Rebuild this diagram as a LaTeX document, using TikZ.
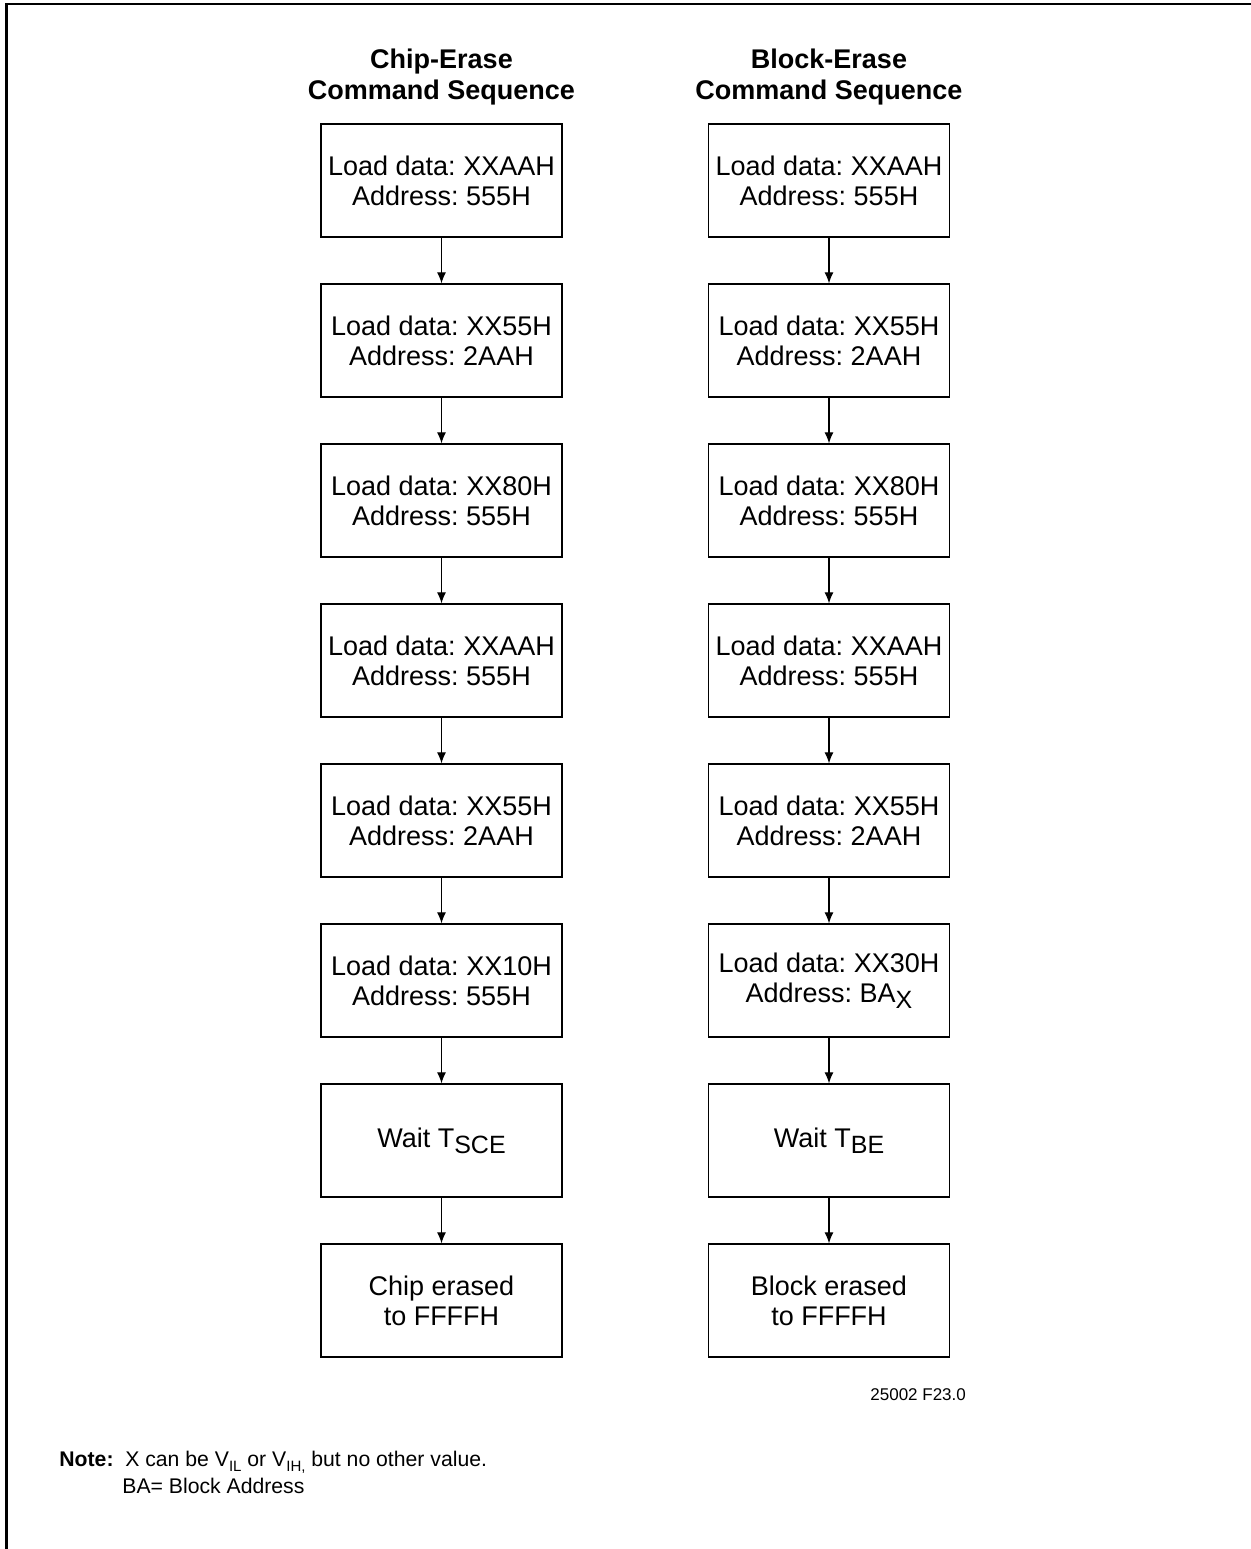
\documentclass[tikz,border=0pt]{standalone}
\usepackage{fontspec}
\setmainfont{Liberation Sans}
\usetikzlibrary{positioning,arrows.meta}
\frenchspacing

\newcommand{\bigsub}[1]{\raisebox{-3pt}{\fontsize{12.5}{12.5}\selectfont #1}}
\newcommand{\lowsub}[1]{\raisebox{-2.5pt}{\fontsize{7.5}{7.5}\selectfont #1}}

\begin{document}
\begin{tikzpicture}[x=0.5pt, y=-0.5pt, node distance=80pt,
    stepbox/.style={draw, line width=0.65pt, rectangle, minimum width=120.5pt, minimum height=56.5pt, inner sep=0pt, align=center, font=\fontsize{13.5}{15}\selectfont},
    heading/.style={inner sep=0pt, align=center, font=\fontsize{13.5}{15.5}\selectfont\bfseries},
    flow/.style={line width=0.6pt, -{Latex[length=5.5pt,width=4.5pt]}},
    smalltext/.style={inner sep=0pt, anchor=base west, font=\fontsize{10.6}{11}\selectfont}]
    \useasboundingbox (0,0) rectangle (1251,1549);
    % frame
    \draw[line width=1.2pt] (6.5,1549) -- (6.5,4) -- (1251,4);

    % chip erase
    \node[stepbox] (ce1) at (441.5,180.5) {Load data: XXAAH\\Address: 555H};
    \node[stepbox, below of=ce1] (ce2) {Load data: XX55H\\Address: 2AAH};
    \node[stepbox, below of=ce2] (ce3) {Load data: XX80H\\Address: 555H};
    \node[stepbox, below of=ce3] (ce4) {Load data: XXAAH\\Address: 555H};
    \node[stepbox, below of=ce4] (ce5) {Load data: XX55H\\Address: 2AAH};
    \node[stepbox, below of=ce5] (ce6) {Load data: XX10H\\Address: 555H};
    \node[stepbox, below of=ce6] (ce7) {Wait T\bigsub{SCE}};
    \node[stepbox, below of=ce7] (ce8) {Chip erased\\to FFFFH};
    \node[heading, above=9pt of ce1] (cehead) {Chip-Erase\\Command Sequence};

    % block erase
    \node[stepbox, right of=ce1, xshift=113.75pt] (be1) {Load data: XXAAH\\Address: 555H};
    \node[stepbox, below of=be1] (be2) {Load data: XX55H\\Address: 2AAH};
    \node[stepbox, below of=be2] (be3) {Load data: XX80H\\Address: 555H};
    \node[stepbox, below of=be3] (be4) {Load data: XXAAH\\Address: 555H};
    \node[stepbox, below of=be4] (be5) {Load data: XX55H\\Address: 2AAH};
    \node[stepbox, below of=be5] (be6) {Load data: XX30H\\Address: BA\bigsub{X}};
    \node[stepbox, below of=be6] (be7) {Wait T\bigsub{BE}};
    \node[stepbox, below of=be7] (be8) {Block erased\\to FFFFH};
    \node[heading, above=9pt of be1] (behead) {Block-Erase\\Command Sequence};

    \draw[flow] (ce1) -- (ce2);
    \draw[flow] (ce2) -- (ce3);
    \draw[flow] (ce3) -- (ce4);
    \draw[flow] (ce4) -- (ce5);
    \draw[flow] (ce5) -- (ce6);
    \draw[flow] (ce6) -- (ce7);
    \draw[flow] (ce7) -- (ce8);
    \draw[flow] (be1) -- (be2);
    \draw[flow] (be2) -- (be3);
    \draw[flow] (be3) -- (be4);
    \draw[flow] (be4) -- (be5);
    \draw[flow] (be5) -- (be6);
    \draw[flow] (be6) -- (be7);
    \draw[flow] (be7) -- (be8);

    % notes
    \node[smalltext, font=\fontsize{8.5}{9}\selectfont] (figid) at (870,1400) {25002 F23.0};
    \node[smalltext] (note) at (59,1466) {\textbf{Note:}\ \ X can be V\lowsub{IL} or V\lowsub{IH,} but no other value.};
    \node[smalltext] (noteba) at (122,1493) {BA= Block Address};
\end{tikzpicture}
\end{document}
